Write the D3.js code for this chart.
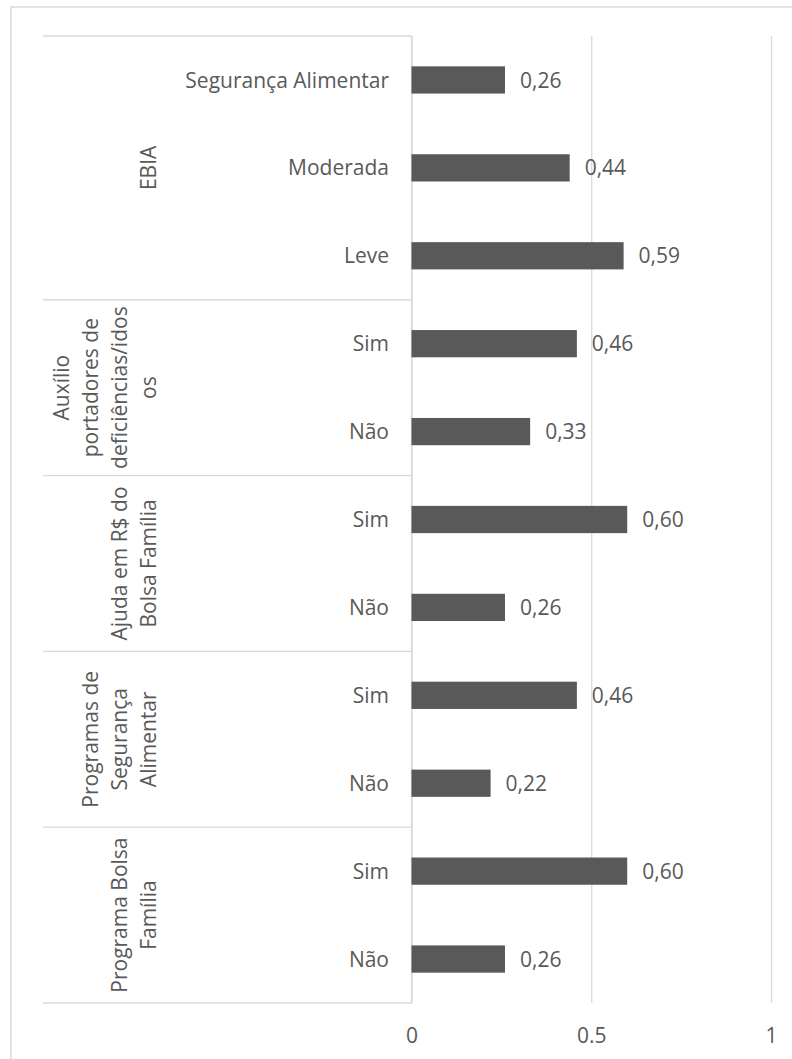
<!DOCTYPE html>
<html>
<head>
<meta charset="utf-8">
<script src="https://cdn.jsdelivr.net/npm/d3@7"></script>
<style>
  html, body { margin: 0; padding: 0; background: #fff; }
  svg text { font-family: "Open Sans", "Noto Sans", sans-serif; fill: #595959; }
</style>
</head>
<body>
<svg id="chart" width="792" height="1059"></svg>
<script>
// Category rows, top to bottom
const categories = ["Segurança Alimentar", "Moderada", "Leve", "Sim", "Não", "Sim", "Não", "Sim", "Não", "Sim", "Não"];
// Value of each row
const values = [0.26, 0.44, 0.59, 0.46, 0.33, 0.60, 0.26, 0.46, 0.22, 0.60, 0.26];
// Group labels (wrapped lines) and the number of rows each group spans
const groupLines = [
  ["EBIA"],
  ["Auxílio", "portadores de", "deficiências/idos", "os"],
  ["Ajuda em R$ do", "Bolsa Família"],
  ["Programas de", "Segurança", "Alimentar"],
  ["Programa Bolsa", "Família"]
];
const groupSizes = [3, 2, 2, 2, 2];
// Value axis ticks
const tickValues = [0, 0.5, 1];
const tickLabels = ["0", "0.5", "1"];

const svg = d3.select("#chart");
const grid = "#d9d9d9";
const ink = "#595959";
const fontSize = 21;

// Chart-area frame
svg.append("rect")
  .attr("x", 11).attr("y", 7)
  .attr("width", 800).attr("height", 1100)
  .attr("fill", "none").attr("stroke", grid).attr("stroke-width", 1.5);

const plotTop = 36, plotBottom = 1003;
const x = d3.scaleLinear().domain([0, 1]).range([411.5, 771]);
const y = d3.scaleBand()
  .domain(d3.range(categories.length))
  .range([plotTop, plotBottom])
  .paddingInner(0.69)
  .paddingOuter(0.345);

// Vertical gridlines
const gridAxis = d3.axisBottom(x)
  .tickValues(tickValues)
  .tickSize(-(plotBottom - plotTop))
  .tickFormat("");
const gg = svg.append("g").attr("transform", `translate(0,${plotBottom})`).call(gridAxis);
gg.select(".domain").remove();
gg.selectAll(".tick line").attr("stroke", grid).attr("stroke-width", 1.3);

// Tick labels
const xAxis = d3.axisBottom(x)
  .tickValues(tickValues)
  .tickSize(0)
  .tickPadding(0)
  .tickFormat((d, i) => tickLabels[i]);
const xa = svg.append("g").attr("transform", `translate(0,1043)`).call(xAxis);
xa.select(".domain").remove();
xa.selectAll(".tick text")
  .attr("dy", 0)
  .attr("font-size", fontSize)
  .style("font-family", "'Open Sans', 'Noto Sans', sans-serif")
  .attr("fill", ink);

// Group separators in the category axis
const groupStarts = [];
let acc = 0;
groupSizes.forEach(n => { groupStarts.push(acc); acc += n; });
const step = y.step();
const boundaryY = i => plotTop + i * step;

const sepRows = groupStarts.concat([categories.length]);
svg.append("g").selectAll("line")
  .data(sepRows)
  .join("line")
  .attr("x1", 43).attr("x2", x(0))
  .attr("y1", d => boundaryY(d)).attr("y2", d => boundaryY(d))
  .attr("stroke", grid).attr("stroke-width", 1.3);

// Category axis line
svg.append("line")
  .attr("x1", x(0)).attr("x2", x(0))
  .attr("y1", plotTop).attr("y2", plotBottom)
  .attr("stroke", grid).attr("stroke-width", 1.3);

// Bars
svg.append("g").selectAll("rect")
  .data(values)
  .join("rect")
  .attr("x", x(0))
  .attr("y", (d, i) => y(i))
  .attr("width", d => x(d) - x(0))
  .attr("height", y.bandwidth())
  .attr("fill", ink);

// Value labels
const fmt = v => d3.format(".2f")(v).replace(".", ",");
svg.append("g").selectAll("text")
  .data(values)
  .join("text")
  .attr("x", d => x(d) + 15)
  .attr("y", (d, i) => y(i) + y.bandwidth() / 2)
  .attr("dy", "0.36em")
  .attr("font-size", fontSize)
  .text(d => fmt(d));

// Category labels
svg.append("g").selectAll("text")
  .data(categories)
  .join("text")
  .attr("x", 389)
  .attr("y", (d, i) => y(i) + y.bandwidth() / 2)
  .attr("dy", "0.36em")
  .attr("text-anchor", "end")
  .attr("font-size", fontSize)
  .text(d => d);

// Rotated group labels
const lineGap = 29;
groupLines.forEach((lines, gi) => {
  const cy = (boundaryY(groupStarts[gi]) + boundaryY(groupStarts[gi] + groupSizes[gi])) / 2;
  const n = lines.length;
  lines.forEach((ln, li) => {
    const bx = 156 - (n - 1 - li) * lineGap;
    svg.append("text")
      .attr("transform", `translate(${bx},${cy}) rotate(-90)`)
      .attr("text-anchor", "middle")
      .attr("font-size", fontSize)
      .text(ln);
  });
});
</script>
</body>
</html>
